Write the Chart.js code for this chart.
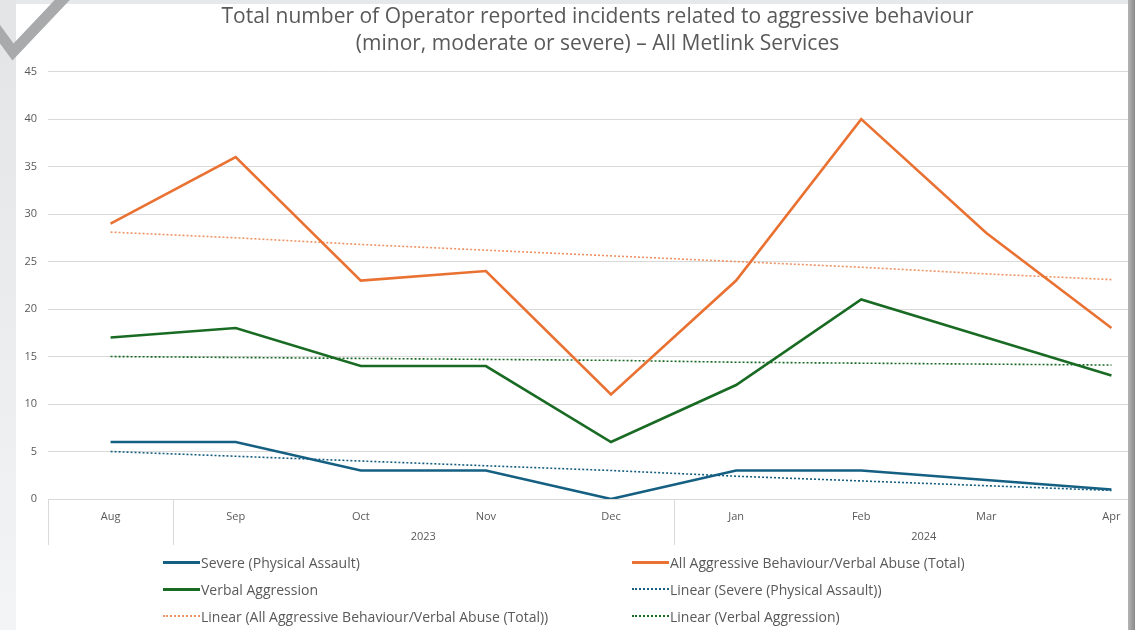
<!DOCTYPE html>
<html>
<head>
<meta charset="utf-8">
<script src="https://cdn.jsdelivr.net/npm/chart.js@4"></script>
<style>
    html, body { margin: 0; padding: 0; width: 1135px; height: 630px; overflow: hidden; background: #e6e8ea; }
    #panel { position: absolute; left: 16px; top: 4px; width: 1112px; height: 626px; background: #fff; }
    #leftBand { position: absolute; left: 0; top: 0; width: 16px; height: 630px; background: linear-gradient(#e2e4e6, #f3f4f5); }
    #rightBand { position: absolute; left: 1128px; top: 0; width: 7px; height: 630px; background: linear-gradient(90deg, #b5b5b5, #8a8a8a); }
    #tick { position: absolute; left: 0; top: 0; }
    #wrap { position: absolute; left: 0; top: 0; width: 1202px; height: 630px; }
    #legend { position: absolute; left: 163px; top: 552px; display: grid; grid-template-columns: 469px 460px; row-gap: 7px;
              font: 14px 'Open Sans', sans-serif; color: #595959; }
    .item { display: flex; align-items: center; height: 20px; white-space: nowrap; }
    .swatch { width: 37px; height: 0; margin-right: 1px; }
</style>
</head>
<body>
<div id="leftBand"></div>
<div id="panel"></div>
<svg id="tick" width="80" height="70"><polyline points="-6,26 13,52 66,-4" fill="none" stroke="#a9aaab" stroke-width="11"/></svg>
<div id="wrap"><canvas id="incidentsChart" width="1202" height="630"></canvas></div>
<div id="rightBand"></div>
<div id="legend"></div>
<script>
// Months on the category axis and the year groups under them
const months = ['Aug', 'Sep', 'Oct', 'Nov', 'Dec', 'Jan', 'Feb', 'Mar', 'Apr'];
const yearGroups = [
    { label: '', from: 0, to: 0 },
    { label: '2023', from: 1, to: 4 },
    { label: '2024', from: 5, to: 8 }
];

// Series values
const severe = [6, 6, 3, 3, 0, 3, 3, 2, 1];
const total = [29, 36, 23, 24, 11, 23, 40, 28, 18];
const verbal = [17, 18, 14, 14, 6, 12, 21, 17, 13];

// Excel linear trendlines
const severeTrend = [5.0, 4.5, 4.0, 3.5, 3.0, 2.4, 1.9, 1.4, 0.9];
const totalTrend = [28.1, 27.5, 26.8, 26.2, 25.6, 25.0, 24.4, 23.7, 23.1];
const verbalTrend = [15.0, 14.9, 14.8, 14.7, 14.6, 14.4, 14.3, 14.2, 14.1];

const yTicks = [0, 5, 10, 15, 20, 25, 30, 35, 40, 45];

const blue = '#156082';
const orange = '#E97132';
const green = '#196B24';
const textGrey = '#595959';

Chart.defaults.font.family = "'Open Sans', sans-serif";
Chart.defaults.color = textGrey;

function seriesLine(label, data, color) {
    return { label: label, data: data, borderColor: color, backgroundColor: color,
             borderWidth: 2.6, pointRadius: 0, tension: 0, dotted: false };
}
function trendLine(label, data, color) {
    return { label: label, data: data, borderColor: color, backgroundColor: color,
             borderWidth: 1.6, borderDash: [2, 2], pointRadius: 0, tension: 0, dotted: true };
}

const data = {
    labels: months,
    datasets: [
        seriesLine('Severe (Physical Assault)', severe, blue),
        seriesLine('All Aggressive Behaviour/Verbal Abuse (Total)', total, orange),
        seriesLine('Verbal Aggression', verbal, green),
        trendLine('Linear (Severe (Physical Assault))', severeTrend, blue),
        trendLine('Linear (All Aggressive Behaviour/Verbal Abuse (Total))', totalTrend, '#EE9462'),
        trendLine('Linear (Verbal Aggression)', verbalTrend, green)
    ]
};

// Draws the year row and the group separators under the month labels
const yearRow = {
    id: 'yearRow',
    afterDraw(chart) {
        const ctx = chart.ctx;
        const x = chart.scales.x;
        const half = (x.getPixelForValue(1) - x.getPixelForValue(0)) / 2;
        const bottom = chart.chartArea.bottom;
        ctx.save();
        ctx.strokeStyle = '#d9d9d9';
        ctx.lineWidth = 1;
        ctx.fillStyle = textGrey;
        ctx.font = "11px 'Open Sans', sans-serif";
        ctx.textAlign = 'center';
        ctx.textBaseline = 'middle';
        yearGroups.forEach(g => {
            const left = x.getPixelForValue(g.from) - half;
            const right = x.getPixelForValue(g.to) + half;
            ctx.beginPath();
            ctx.moveTo(Math.round(left) + 0.5, bottom);
            ctx.lineTo(Math.round(left) + 0.5, bottom + 46);
            ctx.stroke();
            if (g.label) ctx.fillText(g.label, (left + right) / 2, bottom + 38);
        });
        ctx.restore();
    }
};

const ctx = document.getElementById('incidentsChart').getContext('2d');
new Chart(ctx, {
    type: 'line',
    data: data,
    plugins: [yearRow],
    options: {
        responsive: false,
        animation: false,
        layout: { padding: { left: 21, right: 28, top: 0, bottom: 81 } },
        scales: {
            x: {
                offset: true,
                grid: { display: false },
                border: { display: false },
                ticks: { font: { size: 11 }, padding: 3, maxRotation: 0 },
                afterFit: s => { s.height = 50; }
            },
            y: {
                min: 0,
                max: 45,
                afterBuildTicks: s => { s.ticks = yTicks.map(v => ({ value: v })); },
                grid: { color: '#d9d9d9', drawTicks: false },
                border: { display: false },
                ticks: { font: { size: 11 }, padding: 11 },
                afterFit: s => { s.width = 27; }
            }
        },
        plugins: {
            legend: { display: false },
            tooltip: { enabled: false },
            title: {
                display: true,
                text: ['Total number of Operator reported incidents related to aggressive behaviour',
                       '(minor, moderate or severe) \u2013 All Metlink Services'],
                color: textGrey,
                font: { size: 21, weight: 'normal', lineHeight: 1.3 },
                padding: { top: 3, bottom: 14 }
            }
        }
    }
});

// Legend in two columns, as in the original
const legendEl = document.getElementById('legend');
data.datasets.forEach(ds => {
    const item = document.createElement('div');
    item.className = 'item';
    const sw = document.createElement('span');
    sw.className = 'swatch';
    sw.style.borderTop = ds.dotted ? '2px dotted ' + ds.borderColor : '3px solid ' + ds.borderColor;
    const txt = document.createElement('span');
    txt.textContent = ds.label;
    item.appendChild(sw);
    item.appendChild(txt);
    legendEl.appendChild(item);
});
</script>
</body>
</html>
